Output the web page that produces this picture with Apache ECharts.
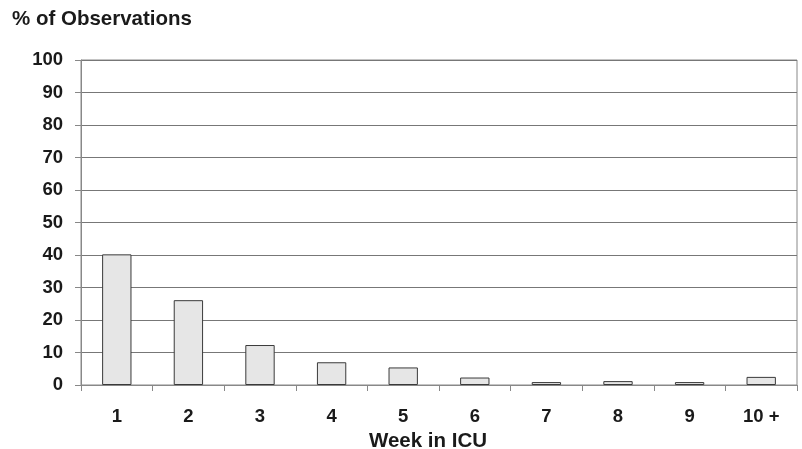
<!DOCTYPE html>
<html>
<head>
<meta charset="utf-8">
<script src="https://cdn.jsdelivr.net/npm/echarts@6/dist/echarts.min.js"></script>
<style>html,body{margin:0;padding:0;background:#fff;}#c{width:802px;height:449px;}</style>
</head>
<body>
<div id="c"></div>
<script>
const categories = ['1', '2', '3', '4', '5', '6', '7', '8', '9', '10 +'];
const values = [40.2, 26.1, 12.3, 7.0, 5.4, 2.3, 0.9, 1.2, 0.9, 2.5];
const yTicks = [0, 10, 20, 30, 40, 50, 60, 70, 80, 90, 100];

const font = 'Liberation Sans, Arial, sans-serif';
const chart = echarts.init(document.getElementById('c'), null, {renderer: 'canvas'});
chart.setOption({
  animation: false,
  backgroundColor: '#ffffff',
  title: {
    text: '% of Observations',
    left: 12, top: 9, padding: 0,
    textStyle: {fontFamily: font, fontWeight: 'bold', fontSize: 20.5, color: '#1a1a1a'}
  },
  grid: {left: 81, right: 5, top: 60, bottom: 64, show: true, borderColor: '#888', borderWidth: 1, outerBoundsMode: 'none', containLabel: false},
  xAxis: {
    type: 'category',
    data: categories,
    name: 'Week in ICU',
    nameLocation: 'middle',
    nameGap: 45,
    nameTextStyle: {fontFamily: font, fontWeight: 'bold', fontSize: 20.5, color: '#1a1a1a', padding: [0, 22, 0, 0]},
    axisLine: {lineStyle: {color: '#888', width: 1}},
    axisTick: {show: true, length: 6, lineStyle: {color: '#888'}},
    axisLabel: {fontFamily: font, fontWeight: 'bold', fontSize: 18.5, color: '#1a1a1a', margin: 22}
  },
  yAxis: {
    type: 'value',
    min: yTicks[0], max: yTicks[yTicks.length - 1], interval: 10,
    axisLine: {show: true, lineStyle: {color: '#888', width: 1}},
    axisTick: {show: true, length: 6, lineStyle: {color: '#888'}},
    axisLabel: {fontFamily: font, fontWeight: 'bold', fontSize: 18.5, color: '#1a1a1a', margin: 18},
    splitLine: {show: true, lineStyle: {color: '#777', width: 1}}
  },
  series: [{
    type: 'bar',
    data: values,
    barWidth: '41%',
    itemStyle: {color: '#e6e6e6', borderColor: '#3a3a3a', borderWidth: 1}
  }]
});
</script>
</body>
</html>
